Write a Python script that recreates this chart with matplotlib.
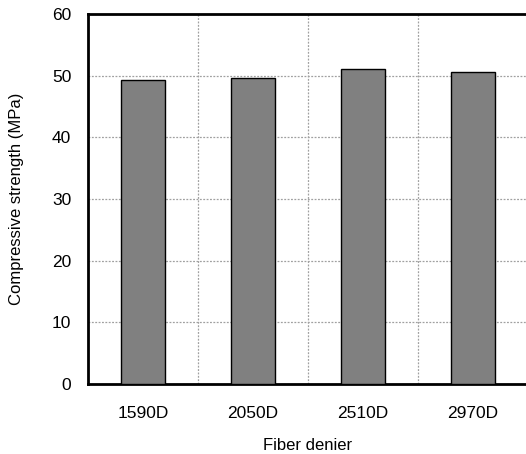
import matplotlib
matplotlib.use("Agg")
import matplotlib.pyplot as plt
import numpy as np
from matplotlib.ticker import FixedLocator

plt.rcParams['font.family'] = ['Liberation Sans', 'DejaVu Sans']

categories = ["1590D", "2050D", "2510D", "2970D"]
strength = [49.25, 49.55, 51.1, 50.6]
y_ticks = [0, 10, 20, 30, 40, 50, 60]

fig = plt.figure(figsize=(5.26, 4.54), dpi=100)
ax = fig.add_axes([88 / 526, 1 - 384 / 454, 440 / 526, 370 / 454])

x = np.arange(len(categories))
ax.bar(x, strength, width=0.4, color="#808080", edgecolor="black",
       linewidth=1.0, zorder=3)

ax.set_xlim(-0.5, len(categories) - 0.5)
ax.set_ylim(0, 60)
ax.set_yticks(y_ticks)
ax.set_xticks(x)
ax.set_xticklabels(categories)
ax.xaxis.set_minor_locator(FixedLocator(np.arange(0.5, len(categories), 1.0)))

grid_style = dict(color="#a0a0a0", linestyle=(0, (1.5, 1.2)), linewidth=0.9, zorder=1)
ax.grid(axis="y", which="major", **grid_style)
ax.grid(axis="x", which="minor", **grid_style)
ax.set_axisbelow(True)

ax.tick_params(axis="both", which="both", length=0, labelsize=12.5)
ax.tick_params(axis="y", pad=12)
ax.tick_params(axis="x", pad=16)

for side in ["left", "bottom", "top", "right"]:
    ax.spines[side].set_linewidth(2.0)
    ax.spines[side].set_color("black")

ax.set_xlabel("Fiber denier", fontsize=12, labelpad=12)
ax.set_ylabel("Compressive strength (MPa)", fontsize=12, labelpad=20)

fig.savefig("out.png", dpi=100)
